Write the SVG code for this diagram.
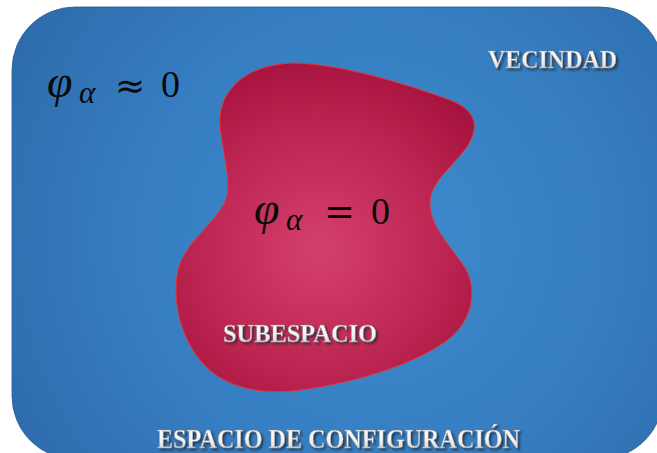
<svg xmlns="http://www.w3.org/2000/svg" width="657" height="453" viewBox="0 0 657 453">
  <defs>
    <radialGradient id="bg" cx="370" cy="240" r="430" gradientUnits="userSpaceOnUse">
      <stop offset="0" stop-color="#3f8bcf"/>
      <stop offset="0.55" stop-color="#367dc1"/>
      <stop offset="1" stop-color="#2c6aa9"/>
    </radialGradient>
    <radialGradient id="blob" cx="320" cy="250" r="200" gradientUnits="userSpaceOnUse">
      <stop offset="0" stop-color="#d4406d"/>
      <stop offset="0.6" stop-color="#bd2652"/>
      <stop offset="1" stop-color="#a5123d"/>
    </radialGradient>
    <linearGradient id="lbl" x1="0" y1="0" x2="0" y2="1">
      <stop offset="0" stop-color="#ffffff"/>
      <stop offset="0.55" stop-color="#f2f2f2"/>
      <stop offset="1" stop-color="#c4c4c4"/>
    </linearGradient>
    <filter id="sh" x="-10%" y="-30%" width="120%" height="170%">
      <feGaussianBlur in="SourceAlpha" stdDeviation="0.9" result="b"/>
      <feOffset in="b" dx="2" dy="2" result="o"/>
      <feFlood flood-color="#1f2a38" flood-opacity="0.8"/>
      <feComposite in2="o" operator="in" result="s"/>
      <feMerge>
        <feMergeNode in="s"/>
        <feMergeNode in="SourceGraphic"/>
      </feMerge>
    </filter>
  </defs>
  <style>
    .lab { font-family: "Liberation Serif", "Times New Roman", serif; font-weight: bold; fill: url(#lbl); stroke: #8a8a8a; stroke-width: 0.4; filter: url(#sh); }
    .math { font-family: "Liberation Serif", "DejaVu Serif", serif; fill: #0a0a0a; }
    .op { font-family: "DejaVu Sans", sans-serif; fill: #0a0a0a; }
  </style>

  <g id="espacio">
    <rect x="12" y="7" width="651" height="452" rx="63" ry="63" fill="url(#bg)" stroke="#28598c" stroke-width="0.8"/>
  </g>

  <g id="subespacio">
    <path d="M 293,63 C 340,64 400,82 450,100 C 475,110 480,125 468,145 C 455,165 432,180 430,200 C 428,225 450,245 465,268 C 478,290 472,320 450,338 C 420,362 360,382 300,390 C 255,396 220,385 200,360 C 180,335 172,300 178,270 C 186,240 215,225 226,200 C 232,180 222,150 220,125 C 218,95 240,65 293,63 Z" fill="url(#blob)" stroke="#e8322e" stroke-width="1"/>
  </g>

  <g id="formula-vecindad">
    <text class="math" x="47" y="97" font-size="46" font-style="italic">φ</text>
    <text class="math" x="79" y="103" font-size="31" font-style="italic">α</text>
    <text class="op" x="115" y="98" font-size="36">≈</text>
    <text class="math" x="161" y="97" font-size="38">0</text>
  </g>

  <g id="formula-subespacio">
    <text class="math" x="254" y="224" font-size="46" font-style="italic">φ</text>
    <text class="math" x="286" y="230" font-size="31" font-style="italic">α</text>
    <text class="op" x="324" y="224" font-size="37">=</text>
    <text class="math" x="371" y="224" font-size="38">0</text>
  </g>

  <g id="label-vecindad">
    <text class="lab" x="488" y="68" font-size="25" textLength="129" lengthAdjust="spacingAndGlyphs">VECINDAD</text>
  </g>

  <g id="label-subespacio">
    <text class="lab" x="223" y="342" font-size="26" textLength="154" lengthAdjust="spacingAndGlyphs">SUBESPACIO</text>
  </g>

  <g id="label-configuracion">
    <text class="lab" x="157" y="448" font-size="27" textLength="363" lengthAdjust="spacingAndGlyphs">ESPACIO DE CONFIGURACIÓN</text>
  </g>

  <g id="connectors"></g>
</svg>
